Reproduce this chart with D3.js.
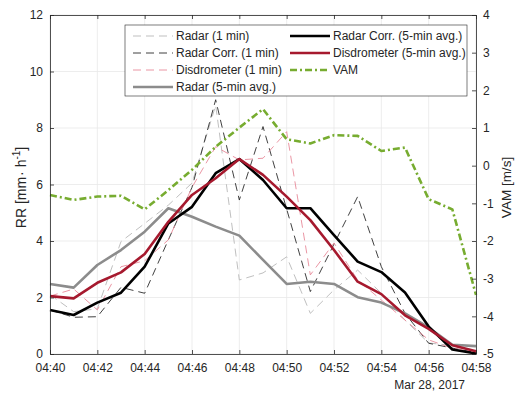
<!DOCTYPE html>
<html>
<head>
<meta charset="utf-8">
<script src="https://cdn.jsdelivr.net/npm/d3@7"></script>
<style>
	body { margin: 0; background: #fff; }
	text { font-family: "Liberation Sans", Arial, sans-serif; }
</style>
</head>
<body>
<svg id="chart"></svg>
<script>
// one sample per minute, 04:40 .. 04:58
let times = ["04:40", "04:41", "04:42", "04:43", "04:44", "04:45", "04:46", "04:47", "04:48", "04:49",
	"04:50", "04:51", "04:52", "04:53", "04:54", "04:55", "04:56", "04:57", "04:58"];

let radar1 = [2.1, 1.5, 1.6, 3.98, 4.62, 5.27, 6.05, 8.8, 2.62, 2.87, 3.44, 1.44, 2.27, 2.97, 2.15, 1.2, 0.39, 0.3, 0.3];
let radarCorr1 = [1.56, 1.30, 1.32, 2.36, 2.15, 4.04, 5.9, 9.0, 5.45, 8.05, 5.13, 2.21, 3.89, 5.57, 3.09, 1.44, 0.38, 0.21, 0.05];
let disdro1 = [2.05, 2.3, 1.56, 3.09, 3.3, 4.04, 5.9, 7.34, 6.87, 6.93, 7.87, 2.8, 3.93, 2.62, 1.91, 1.2, 0.5, 0.2, 0.1];
let radar5 = [2.48, 2.35, 3.15, 3.68, 4.33, 5.16, 4.86, 4.51, 4.19, 3.33, 2.48, 2.56, 2.48, 2.01, 1.82, 1.44, 0.94, 0.33, 0.28];
let radarCorr5 = [1.56, 1.38, 1.82, 2.17, 3.09, 4.62, 5.21, 6.40, 6.90, 6.16, 5.16, 5.16, 4.21, 3.27, 2.90, 2.18, 0.97, 0.16, 0.02];
let disdro5 = [2.05, 1.97, 2.52, 2.89, 3.54, 4.68, 5.63, 6.22, 6.90, 6.34, 5.57, 4.74, 3.68, 2.56, 2.12, 1.37, 0.89, 0.31, 0.10];
let vam = [-0.78, -0.91, -0.82, -0.80, -1.16, -0.65, -0.11, 0.50, 1.01, 1.50, 0.70, 0.59, 0.81, 0.79, 0.39, 0.48, -0.89, -1.16, -3.43];

let series = [
	{ name: "Radar (1 min)", values: radar1, color: "#b8b8b8", width: 0.9, dash: "8,5", axis: "left" },
	{ name: "Radar Corr. (1 min)", values: radarCorr1, color: "#2b2b2b", width: 0.9, dash: "8,5", axis: "left" },
	{ name: "Disdrometer (1 min)", values: disdro1, color: "#e88a9a", width: 0.9, dash: "8,5", axis: "left" },
	{ name: "Radar (5-min avg.)", values: radar5, color: "#8c8c8c", width: 2.6, dash: null, axis: "left" },
	{ name: "Radar Corr. (5-min avg.)", values: radarCorr5, color: "#000000", width: 2.6, dash: null, axis: "left" },
	{ name: "Disdrometer (5-min avg.)", values: disdro5, color: "#a6192e", width: 2.6, dash: null, axis: "left" },
	{ name: "VAM", values: vam, color: "#77ac30", width: 2.6, dash: "7,3,2,3", axis: "right" }
];

let svgWidth = 515, svgHeight = 397;
let margin = { top: 15, right: 39, bottom: 43, left: 50 };
let width = svgWidth - margin.left - margin.right;
let height = svgHeight - margin.top - margin.bottom;
let axisColor = "#262626";

let svg = d3.select("#chart")
	.attr("width", svgWidth)
	.attr("height", svgHeight);

let g = svg.append("g")
	.attr("transform", "translate(" + margin.left + "," + margin.top + ")");

let parseTime = d3.timeParse("%Y-%m-%d %H:%M");
let dates = times.map(t => parseTime("2017-03-28 " + t));

//scales
let x = d3.scaleTime()
	.domain(d3.extent(dates))
	.range([0, width]);
let yLeft = d3.scaleLinear()
	.domain([0, 12])
	.range([height, 0]);
let yRight = d3.scaleLinear()
	.domain([-5, 4])
	.range([height, 0]);

let xTicks = d3.timeMinute.every(2).range(dates[0], d3.timeMinute.offset(dates[dates.length - 1], 1));

//grid
g.append("g")
	.selectAll("line.vgrid")
	.data(xTicks)
	.enter()
	.append("line")
	.attr("x1", d => x(d)).attr("x2", d => x(d))
	.attr("y1", 0).attr("y2", height)
	.attr("stroke", "#e8e8e8")
	.attr("stroke-width", 0.8);
g.append("g")
	.selectAll("line.hgrid")
	.data(yLeft.ticks(6))
	.enter()
	.append("line")
	.attr("x1", 0).attr("x2", width)
	.attr("y1", d => yLeft(d)).attr("y2", d => yLeft(d))
	.attr("stroke", "#e8e8e8")
	.attr("stroke-width", 0.8);

//lines
for (let i = 0; i < series.length; i++)
{
	let s = series[i];
	let yScale = s.axis == "left" ? yLeft : yRight;
	let line = d3.line()
		.x((d, j) => x(dates[j]))
		.y(d => yScale(d));
	g.append("path")
		.datum(s.values)
		.attr("fill", "none")
		.attr("stroke", s.color)
		.attr("stroke-width", s.width)
		.attr("stroke-dasharray", s.dash)
		.attr("stroke-linejoin", "round")
		.attr("d", line);
}

//axes
let styleAxis = function (sel)
{
	sel.selectAll("path").attr("stroke", axisColor).attr("stroke-width", 0.8);
	sel.selectAll("line").attr("stroke", axisColor).attr("stroke-width", 0.8);
	sel.selectAll("text").attr("fill", axisColor).attr("font-size", "12px")
		.attr("font-family", "'Liberation Sans', Arial, sans-serif");
}

g.append("g")
	.attr("transform", "translate(0," + height + ")")
	.call(d3.axisBottom(x).tickValues(xTicks).tickFormat(d3.timeFormat("%H:%M")).tickSizeInner(-4).tickSizeOuter(0).tickPadding(9))
	.call(styleAxis);

g.append("g")
	.call(d3.axisTop(x).tickValues(xTicks).tickFormat("").tickSizeInner(-4).tickSizeOuter(0))
	.call(styleAxis);

g.append("g")
	.call(d3.axisLeft(yLeft).ticks(6).tickSizeInner(-4).tickSizeOuter(0).tickPadding(7))
	.call(styleAxis);

g.append("g")
	.attr("transform", "translate(" + width + ",0)")
	.call(d3.axisRight(yRight).ticks(9).tickFormat(d => String(d)).tickSizeInner(-4).tickSizeOuter(0).tickPadding(7))
	.call(styleAxis);

//axis labels
g.append("text")
	.attr("transform", "translate(" + (-24) + "," + (height / 2 + 3) + ") rotate(-90)")
	.attr("text-anchor", "middle")
	.attr("font-size", "14px")
	.attr("fill", axisColor)
	.html("RR [mm<tspan dx='1'>·</tspan> h<tspan dy='-6' font-size='10px'>-1</tspan><tspan dy='6'>]</tspan>");

g.append("text")
	.attr("transform", "translate(" + (width + 35) + "," + (height / 2 + 3) + ") rotate(-90)")
	.attr("text-anchor", "middle")
	.attr("font-size", "13.5px")
	.attr("fill", axisColor)
	.text("VAM [m/s]");

g.append("text")
	.attr("x", width - 11)
	.attr("y", height + 35)
	.attr("text-anchor", "end")
	.attr("font-size", "12px")
	.attr("fill", axisColor)
	.text("Mar 28, 2017");

//legend
let legend = svg.append("g")
	.attr("transform", "translate(125,25)");
legend.append("rect")
	.attr("width", 342)
	.attr("height", 71)
	.attr("fill", "#fff")
	.attr("stroke", axisColor)
	.attr("stroke-width", 0.6);

for (let i = 0; i < series.length; i++)
{
	let s = series[i];
	let col = i < 4 ? 0 : 1;
	let row = i < 4 ? i : i - 4;
	let lx = col == 0 ? 8 : 165;
	let ly = 11 + row * 17;
	legend.append("line")
		.attr("x1", lx).attr("x2", lx + 40)
		.attr("y1", ly).attr("y2", ly)
		.attr("stroke", s.color)
		.attr("stroke-width", s.width)
		.attr("stroke-dasharray", s.dash);
	legend.append("text")
		.attr("x", lx + 43)
		.attr("y", ly)
		.attr("dy", "0.35em")
		.attr("font-size", "12px")
		.attr("fill", axisColor)
		.text(s.name);
}
</script>
</body>
</html>
